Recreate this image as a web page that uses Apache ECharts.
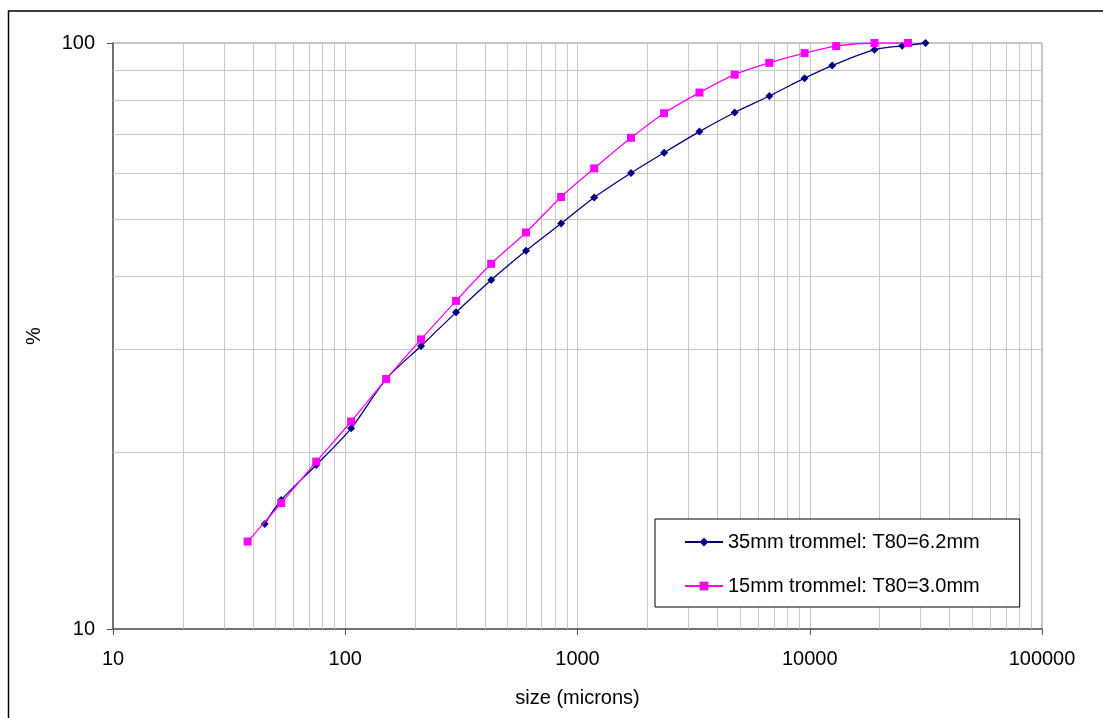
<!DOCTYPE html>
<html>
<head>
    <meta charset="utf-8">
    <title>size distribution</title>
    <script src="https://cdn.jsdelivr.net/npm/echarts@6.0.0/dist/echarts.min.js"></script>
    <style>
        html, body {margin: 0; padding: 0; background: #fff;}
        #main {width: 1103px; height: 718px;}
    </style>
</head>
<body>
<div id="main"></div>
<script type="text/javascript">
    // sieve sizes (microns) and cumulative % passing
    var size35 = [45, 53, 75, 106, 150, 212, 300, 425, 600, 850, 1180, 1700, 2360, 3350, 4750, 6700, 9500, 12500, 19000, 25000, 31500];
    var pass35 = [15.1, 16.6, 19.05, 22.0, 26.7, 30.4, 34.7, 39.4, 44.2, 49.2, 54.5, 60.0, 65.0, 70.6, 76.1, 81.2, 87.1, 91.5, 97.4, 98.9, 100];
    var size15 = [38, 53, 75, 106, 150, 212, 300, 425, 600, 850, 1180, 1700, 2360, 3350, 4750, 6700, 9500, 13000, 19000, 26500];
    var pass15 = [14.1, 16.4, 19.3, 22.6, 26.7, 31.2, 36.3, 42.0, 47.5, 54.6, 61.1, 68.9, 75.9, 82.3, 88.3, 92.5, 96.1, 98.8, 100, 100];
    var names = ['35mm trommel: T80=6.2mm', '15mm trommel: T80=3.0mm'];

    // minor grid lines of the log axes (excel style 2..9 per decade)
    var gridX = [20, 30, 40, 50, 60, 70, 80, 90, 200, 300, 400, 500, 600, 700, 800, 900,
        2000, 3000, 4000, 5000, 6000, 7000, 8000, 9000, 20000, 30000, 40000, 50000, 60000, 70000, 80000, 90000];
    var gridY = [20, 30, 40, 50, 60, 70, 80, 90];

    function pairs(xs, ys) {
        var out = [];
        for (var i = 0; i < xs.length; i++) out.push([xs[i], ys[i]]);
        return out;
    }

    var gridLines = [];
    gridX.forEach(function (v) { gridLines.push({xAxis: v}); });
    gridY.forEach(function (v) { gridLines.push({yAxis: v}); });

    var font = 'Liberation Sans, Arial, sans-serif';
    var myChart = echarts.init(document.getElementById('main'));
    var option = {
        backgroundColor: '#fff',
        animation: false,
        textStyle: {fontFamily: font},
        graphic: [{
            type: 'rect',
            z: -10,
            shape: {x: 8.5, y: 11, width: 1200, height: 800},
            style: {fill: 'none', stroke: '#000', lineWidth: 1.5}
        }],
        grid: {
            left: 113, right: 61, top: 43, bottom: 89,
            show: true, borderColor: '#909090', borderWidth: 1, backgroundColor: '#fff'
        },
        legend: {
            data: names,
            orient: 'vertical',
            left: 655, top: 519,
            z: 20,
            itemWidth: 38, itemHeight: 11, itemGap: 24,
            padding: [13, 40, 11, 29],
            backgroundColor: '#fff',
            borderColor: '#000', borderWidth: 1, borderRadius: 0,
            textStyle: {fontSize: 20, color: '#000', fontFamily: font}
        },
        xAxis: {
            type: 'log', logBase: 10, min: 10, max: 100000,
            name: 'size (microns)', nameLocation: 'middle', nameGap: 59,
            nameTextStyle: {fontSize: 20, color: '#000', fontFamily: font},
            axisLine: {show: true, lineStyle: {color: '#555', width: 1.5}},
            axisTick: {show: true, inside: false, length: 6, lineStyle: {color: '#555'}},
            axisLabel: {fontSize: 20, color: '#000', margin: 20, fontFamily: font,
                formatter: function (v) { return String(Math.round(v)); }},
            splitLine: {show: true, lineStyle: {color: '#c8c8c8', width: 1}},
            minorTick: {show: false}
        },
        yAxis: {
            type: 'log', logBase: 10, min: 10, max: 100,
            name: '%', nameLocation: 'middle', nameGap: 69,
            nameTextStyle: {fontSize: 20, color: '#000', fontFamily: font},
            axisLine: {show: true, lineStyle: {color: '#555', width: 1.5}},
            axisTick: {show: true, inside: false, length: 6, lineStyle: {color: '#555'}},
            axisLabel: {fontSize: 20, color: '#000', margin: 18, fontFamily: font,
                formatter: function (v) { return String(Math.round(v)); }},
            splitLine: {show: true, lineStyle: {color: '#c8c8c8', width: 1}}
        },
        series: [
            {
                name: 'gridlines',
                type: 'line',
                data: [],
                z: 1,
                silent: true,
                markLine: {
                    z: 1,
                    silent: true,
                    symbol: ['none', 'none'],
                    label: {show: false},
                    lineStyle: {color: '#c8c8c8', width: 1, type: 'solid'},
                    emphasis: {disabled: true},
                    data: gridLines
                }
            },
            {
                name: names[0],
                type: 'line',
                z: 3,
                data: pairs(size35, pass35),
                smooth: 0.3,
                symbol: 'diamond',
                symbolSize: 8,
                itemStyle: {color: '#000080'},
                lineStyle: {color: '#000080', width: 1.3}
            },
            {
                name: names[1],
                type: 'line',
                z: 4,
                data: pairs(size15, pass15),
                smooth: 0.3,
                symbol: 'rect',
                symbolSize: 8,
                itemStyle: {color: '#ff00ff'},
                lineStyle: {color: '#ff00ff', width: 1.3}
            }
        ]
    };
    myChart.setOption(option);
</script>
</body>
</html>
